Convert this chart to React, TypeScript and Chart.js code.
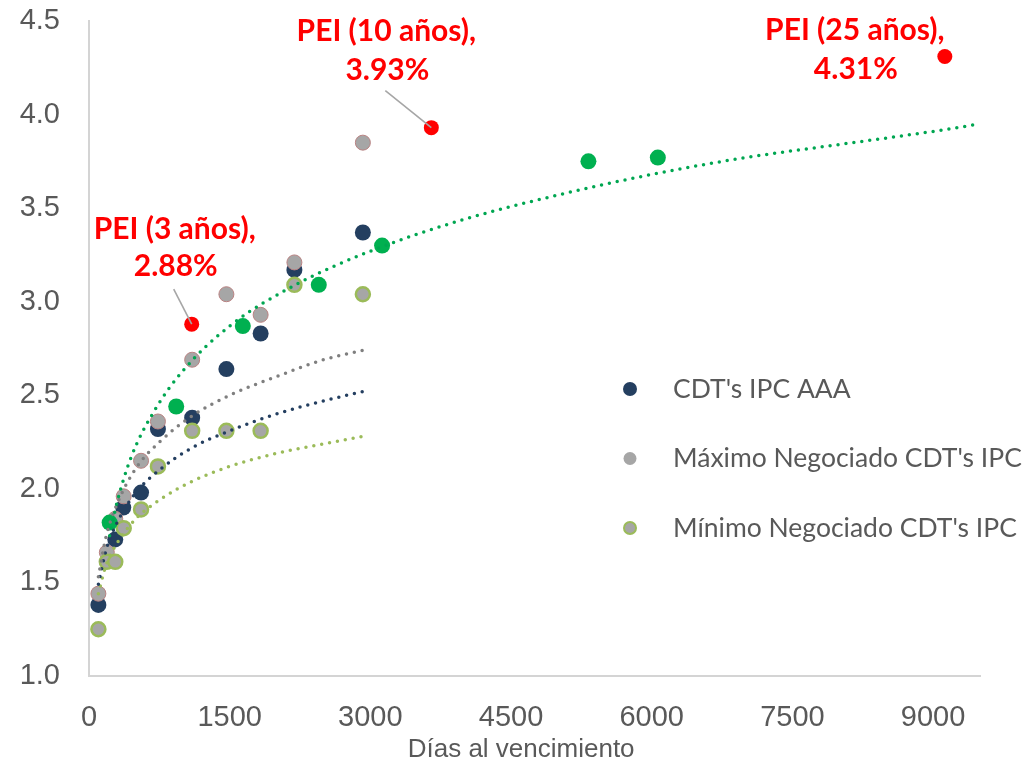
import { useEffect, useRef } from 'react';
import { Chart, registerables } from 'chart.js';

Chart.register(...registerables);

// ---- data ----
const aaaDays = [100, 280, 365, 555, 735, 1100, 1465, 1830, 2190, 2920];
const aaaRates = [1.38, 1.73, 1.9, 1.98, 2.32, 2.38, 2.64, 2.83, 3.17, 3.37];

const maxDays = [100, 190, 280, 370, 555, 735, 1100, 1465, 1830, 2190, 2920];
const maxRates = [1.44, 1.66, 1.84, 1.96, 2.15, 2.36, 2.69, 3.04, 2.93, 3.21, 3.85];

const minDays = [100, 190, 280, 370, 555, 735, 1100, 1465, 1830, 2190, 2920];
const minRates = [1.25, 1.61, 1.61, 1.79, 1.89, 2.12, 2.31, 2.31, 2.31, 3.09, 3.04];

const curveDays = [220, 930, 1640, 2450, 3125, 5325, 6065];
const curveRates = [1.82, 2.44, 2.87, 3.09, 3.3, 3.75, 3.77];

const peiDays = [1095, 3650, 9125];
const peiRates = [2.88, 3.93, 4.31];
const peiNames = ['PEI (3 años),', 'PEI (10 años),', 'PEI (25 años),'];

// dotted trend lines
const trendShortDays = [100, 180, 300, 500, 750, 1100, 1500, 2000, 2500, 2920];
const trendAaa = [1.49, 1.67, 1.82, 1.98, 2.1, 2.22, 2.31, 2.4, 2.47, 2.52];
const trendMax = [1.53, 1.74, 1.92, 2.11, 2.25, 2.39, 2.5, 2.6, 2.69, 2.74];
const trendMin = [1.44, 1.59, 1.71, 1.84, 1.94, 2.04, 2.12, 2.19, 2.24, 2.28];
const trendCurveDays = [220, 300, 450, 700, 1000, 1500, 2200, 3000, 4000, 5000, 6000, 7000, 8000, 9000, 9500];
const trendCurve = [1.75, 1.93, 2.17, 2.42, 2.63, 2.87, 3.09, 3.27, 3.44, 3.57, 3.68, 3.77, 3.84, 3.91, 3.95];

const xMin = 0;
const xMax = 9500;
const xTicks = [0, 1500, 3000, 4500, 6000, 7500, 9000];
const yMin = 1.0;
const yMax = 4.5;
const yTicks = [1.0, 1.5, 2.0, 2.5, 3.0, 3.5, 4.0, 4.5];

const xTitle = 'Días al vencimiento';
const legendNames = ["CDT's IPC AAA", "Máximo Negociado CDT's IPC", "Mínimo Negociado CDT's IPC"];

// ---- styles ----
const NAVY = '#243F60';
const GRAY = '#A6A6A6';
const OLIVE = '#9BBB59';
const GREEN = '#00B050';
const TREND_GREEN = '#00A651';
const RED = '#FF0000';
const TEXT = '#595959';

const pts = (xs: number[], ys: number[]) => xs.map((x, i) => ({ x, y: ys[i] }));

export default function App() {
  const ref = useRef<HTMLCanvasElement>(null);

  useEffect(() => {
    const canvas = ref.current;
    if (!canvas) return;

    const dotted = (color: string) => ({
      showLine: true,
      pointRadius: 0,
      pointHoverRadius: 0,
      borderColor: color,
      backgroundColor: color,
      borderWidth: 3.5,
      borderDash: [0, 8],
      borderCapStyle: 'round' as const,
      cubicInterpolationMode: 'monotone' as const,
      fill: false,
    });

    const overlay = {
      id: 'overlay',
      afterDatasetsDraw(chart: any) {
        const { ctx, scales, chartArea } = chart;
        const xs = scales.x;
        const ys = scales.y;
        ctx.save();
        // PEI annotations
        const offs = [
          { dx: -17, dy1: -95, dy2: -58, lead: [-18, -35] },
          { dx: -45, dy1: -96, dy2: -57, lead: [-46, -37] },
          { dx: -90, dy1: -26, dy2: 13, lead: null },
        ];
        peiDays.forEach((d, i) => {
          const px = xs.getPixelForValue(d);
          const py = ys.getPixelForValue(peiRates[i]);
          const o = offs[i];
          if (o.lead) {
            ctx.strokeStyle = '#A6A6A6';
            ctx.lineWidth = 1.6;
            ctx.beginPath();
            ctx.moveTo(px + o.lead[0], py + o.lead[1]);
            ctx.lineTo(px, py);
            ctx.stroke();
          }
          ctx.fillStyle = RED;
          ctx.font = 'bold 30px Lato';
          ctx.textAlign = 'center';
          ctx.textBaseline = 'middle';
          ctx.fillText(peiNames[i], px + o.dx, py + o.dy1);
          ctx.fillText(peiRates[i].toFixed(2) + '%', px + o.dx + 1, py + o.dy2);
        });

        // legend
        const lx = 630;
        const ly = 389;
        const step = 69.5;
        ctx.font = '26.5px Lato';
        ctx.textAlign = 'left';
        ctx.textBaseline = 'middle';
        legendNames.forEach((name, i) => {
          const cy = ly + i * step;
          ctx.beginPath();
          if (i === 0) {
            ctx.fillStyle = NAVY;
            ctx.arc(lx, cy, 7, 0, Math.PI * 2);
            ctx.fill();
          } else if (i === 1) {
            ctx.fillStyle = GRAY;
            ctx.arc(lx, cy, 6.5, 0, Math.PI * 2);
            ctx.fill();
          } else {
            ctx.fillStyle = GRAY;
            ctx.strokeStyle = OLIVE;
            ctx.lineWidth = 2;
            ctx.arc(lx, cy, 6, 0, Math.PI * 2);
            ctx.fill();
            ctx.stroke();
          }
          ctx.fillStyle = TEXT;
          ctx.fillText(name, lx + 43, cy);
        });

        // x axis title
        ctx.font = '26px "Liberation Sans"';
        ctx.fillStyle = TEXT;
        ctx.textAlign = 'center';
        ctx.textBaseline = 'middle';
        ctx.fillText(xTitle, chartArea.left + (chartArea.right - chartArea.left) * 0.485, chartArea.bottom + 74);
        ctx.restore();
      },
    };

    const chart = new Chart(canvas, {
      type: 'scatter',
      data: {
        datasets: [
          { label: 'tendencia PEI', data: pts(trendCurveDays, trendCurve), order: 0, ...dotted(TREND_GREEN) },
          { label: 'tendencia máx', data: pts(trendShortDays, trendMax), order: 0, ...dotted('#7F7F7F') },
          { label: 'tendencia AAA', data: pts(trendShortDays, trendAaa), order: 0, ...dotted(NAVY) },
          { label: 'tendencia mín', data: pts(trendShortDays, trendMin), order: 0, ...dotted(OLIVE) },
          {
            label: 'PEI',
            data: pts(peiDays, peiRates),
            order: 1,
            pointRadius: 7.5,
            backgroundColor: RED,
            borderColor: RED,
            borderWidth: 0,
          },
          {
            label: 'Curva PEI',
            data: pts(curveDays, curveRates),
            order: 2,
            pointRadius: 8,
            backgroundColor: GREEN,
            borderColor: GREEN,
            borderWidth: 0,
          },
          {
            label: legendNames[2],
            data: pts(minDays, minRates),
            order: 3,
            pointRadius: 7,
            backgroundColor: GRAY,
            borderColor: OLIVE,
            borderWidth: 2.5,
          },
          {
            label: legendNames[1],
            data: pts(maxDays, maxRates),
            order: 4,
            pointRadius: 7.5,
            backgroundColor: GRAY,
            borderColor: '#B98282',
            borderWidth: 1,
          },
          {
            label: legendNames[0],
            data: pts(aaaDays, aaaRates),
            order: 5,
            pointRadius: 8,
            backgroundColor: NAVY,
            borderColor: NAVY,
            borderWidth: 0,
          },
        ],
      },
      options: {
        animation: false,
        responsive: false,
        devicePixelRatio: 1,
        layout: { padding: { top: 21, right: 53, left: 0, bottom: 0 } },
        plugins: {
          legend: { display: false },
          tooltip: { enabled: false },
        },
        events: [],
        scales: {
          x: {
            type: 'linear',
            min: xMin,
            max: xMax,
            afterBuildTicks: (s: any) => {
              s.ticks = xTicks.map((v) => ({ value: v }));
            },
            afterFit: (s: any) => {
              s.height = 85;
            },
            grid: {
              display: true,
              drawOnChartArea: false,
              drawTicks: true,
              tickLength: 25,
              tickColor: 'rgba(0,0,0,0)',
            },
            border: { display: true, color: '#D4D4D4', width: 2 },
            ticks: {
              autoSkip: false,
              maxRotation: 0,
              minRotation: 0,
              padding: 0,
              color: TEXT,
              font: { family: 'Liberation Sans', size: 29 },
              callback: (v: any) => String(v),
            },
          },
          y: {
            type: 'linear',
            min: yMin,
            max: yMax,
            afterBuildTicks: (s: any) => {
              s.ticks = yTicks.map((v) => ({ value: v }));
            },
            afterFit: (s: any) => {
              s.width = 89;
            },
            grid: {
              display: true,
              drawOnChartArea: false,
              drawTicks: true,
              tickLength: 29,
              tickColor: 'rgba(0,0,0,0)',
            },
            border: { display: true, color: '#D4D4D4', width: 2 },
            ticks: {
              autoSkip: false,
              padding: 0,
              color: TEXT,
              font: { family: 'Liberation Sans', size: 29 },
              callback: (v: any) => Number(v).toFixed(1),
            },
          },
        },
      },
      plugins: [overlay],
    });

    return () => chart.destroy();
  }, []);

  return (
    <div style={{ position: 'fixed', left: 0, top: 0, width: 1033, height: 761, background: '#fff' }}>
      <canvas ref={ref} width={1033} height={761} />
    </div>
  );
}
